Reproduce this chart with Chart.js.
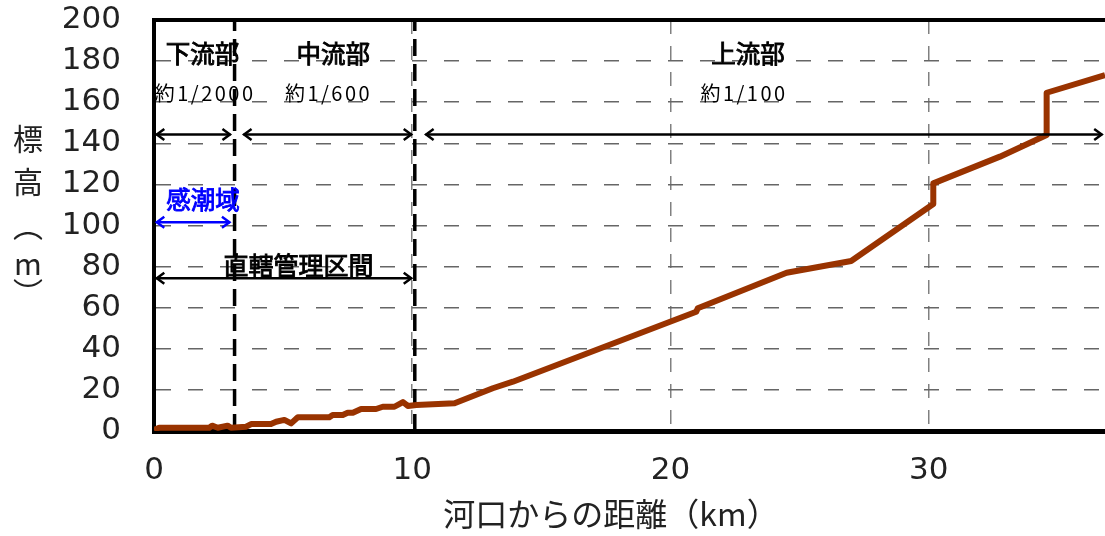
<!DOCTYPE html>
<html><head><meta charset="utf-8">
<script src="https://cdn.jsdelivr.net/npm/chart.js@4/dist/chart.umd.min.js"></script>
<style>html,body{margin:0;padding:0;background:#fff;}canvas{display:block;}</style>
</head><body>
<canvas id="c" width="1105" height="536"></canvas>
<script>
// ---- data ----
const distKm = [0, 0.2, 2.14, 2.25, 2.47, 2.85, 2.98, 3.57, 3.76, 4.53, 4.73, 5.05, 5.31, 5.57, 6.79, 6.92, 7.31, 7.5, 7.7, 8.02, 8.6, 8.86, 9.31, 9.64, 9.83, 10.16, 11.64, 13.12, 13.9, 21.0, 21.06, 24.5, 27.0, 30.18, 30.18, 32.76, 34.57, 34.57, 36.83];
const elevM  = [0.5, 1.6, 1.6, 2.6, 1.6, 2.6, 1.6, 2.1, 3.4, 3.4, 4.5, 5.4, 3.7, 6.7, 6.7, 7.8, 7.8, 8.9, 8.9, 10.7, 10.7, 11.8, 11.8, 14.1, 12.2, 12.7, 13.5, 20.8, 24, 58, 59.7, 77, 82.7, 110.5, 120.5, 133.5, 144, 164.6, 173.2];
const xTicks = [0, 10, 20, 30];
const yTicks = [0, 20, 40, 60, 80, 100, 120, 140, 160, 180, 200];
const boundaryKm = [3.12, 10.1];
const reachNames = ['下流部', '中流部', '上流部'];
const reachNameKm = [1.88, 6.94, 23.0];
const slopeLabels = ['約1/2000', '約1/600', '約1/100'];
const slopeKm = [1.98, 6.76, 22.85];
const reachArrowFrom = [0.05, 3.43, 10.48];
const reachArrowTo = [3.0, 10.02, 36.76];
const reachArrowElev = 144.3;
const tidalLabel = '感潮域';
const tidalArrow = [0.05, 2.98];
const tidalArrowElev = 101.6;
const directLabel = '直轄管理区間';
const directArrow = [0.05, 10.02];
const directArrowElev = 74.3;
const xTitle = '河口からの距離（km）';
const yTitleChars = ['標', '高', '︵', 'm', '︶'];

// ---- styles ----
const CJK = '"Noto Sans CJK JP", "Noto Sans", sans-serif';
const NUM = '"DejaVu Sans", sans-serif';

const profile = distKm.map((x, i) => ({x: x, y: elevM[i]}));
const datasets = [{
  data: profile, borderColor: '#993300', borderWidth: 6, pointRadius: 0,
  tension: 0, fill: false, borderJoinStyle: 'round', borderCapStyle: 'butt'
}];
boundaryKm.forEach(b => datasets.push({
  data: [{x: b, y: 0}, {x: b, y: 200}], borderColor: '#000', borderWidth: 3.5,
  borderDash: [17, 8], pointRadius: 0, fill: false
}));

function arrow(ctx, x1, x2, y, color) {
  ctx.save();
  ctx.strokeStyle = color; ctx.lineWidth = 2.5; ctx.lineCap = 'butt'; ctx.lineJoin = 'miter';
  ctx.beginPath(); ctx.moveTo(x1 + 1, y); ctx.lineTo(x2 - 1, y); ctx.stroke();
  ctx.beginPath();
  ctx.moveTo(x1 + 9, y - 5.5); ctx.lineTo(x1 + 1.5, y); ctx.lineTo(x1 + 9, y + 5.5);
  ctx.moveTo(x2 - 9, y - 5.5); ctx.lineTo(x2 - 1.5, y); ctx.lineTo(x2 - 9, y + 5.5);
  ctx.stroke();
  ctx.restore();
}

function heavyText(ctx, t, px, py, color) {
  ctx.fillStyle = color; ctx.strokeStyle = color; ctx.lineWidth = 0.9;
  ctx.fillText(t, px, py);
  ctx.strokeText(t, px, py);
}

const annot = {
  id: 'annot',
  afterDatasetsDraw(chart) {
    const {ctx, chartArea: a, scales: {x, y}} = chart;
    ctx.save();
    // top frame line
    ctx.strokeStyle = '#000'; ctx.lineWidth = 4;
    ctx.beginPath(); ctx.moveTo(a.left - 2, a.top); ctx.lineTo(a.right, a.top); ctx.stroke();
    ctx.textAlign = 'center'; ctx.textBaseline = 'middle';
    // reach names
    ctx.font = '24.5px ' + CJK;
    reachNames.forEach((t, i) => heavyText(ctx, t, x.getPixelForValue(reachNameKm[i]), y.getPixelForValue(183.8), '#000'));
    // slopes
    ctx.fillStyle = '#000';
    ctx.font = '20px ' + CJK;
    try { ctx.letterSpacing = '2.5px'; } catch (e) {}
    slopeLabels.forEach((t, i) => ctx.fillText(t, x.getPixelForValue(slopeKm[i]), y.getPixelForValue(164.3)));
    try { ctx.letterSpacing = '0px'; } catch (e) {}
    // reach arrows
    const ya = y.getPixelForValue(reachArrowElev);
    reachArrowFrom.forEach((f, i) => arrow(ctx, x.getPixelForValue(f), x.getPixelForValue(reachArrowTo[i]), ya, '#000'));
    // tidal
    ctx.font = '24.5px ' + CJK;
    heavyText(ctx, tidalLabel, x.getPixelForValue(1.9), y.getPixelForValue(112.4), '#0000ff');
    arrow(ctx, x.getPixelForValue(tidalArrow[0]), x.getPixelForValue(tidalArrow[1]), y.getPixelForValue(tidalArrowElev), '#0000ff');
    // direct control
    ctx.font = '25px ' + CJK;
    heavyText(ctx, directLabel, x.getPixelForValue(5.6), y.getPixelForValue(80.3), '#000');
    arrow(ctx, x.getPixelForValue(directArrow[0]), x.getPixelForValue(directArrow[1]), y.getPixelForValue(directArrowElev), '#000');
    ctx.restore();
  },
  afterDraw(chart) {
    const {ctx} = chart;
    ctx.save();
    ctx.fillStyle = '#222'; ctx.textAlign = 'center'; ctx.textBaseline = 'middle';
    ctx.font = '32px ' + CJK;
    ctx.fillText(xTitle, 611, 514);
    ctx.font = '30px ' + CJK;
    const ys = [139, 182, 226, 264, 293];
    yTitleChars.forEach((c, i) => ctx.fillText(c, 28, ys[i]));
    ctx.restore();
  }
};

new Chart(document.getElementById('c'), {
  type: 'line',
  data: {datasets: datasets},
  options: {
    responsive: false, animation: false, devicePixelRatio: 1,
    layout: {padding: {left: 0, right: 0, top: 20, bottom: 0}},
    plugins: {legend: {display: false}, tooltip: {enabled: false}},
    scales: {
      x: {
        type: 'linear', min: 0, max: 36.83,
        afterBuildTicks: s => { s.ticks = xTicks.map(v => ({value: v})); },
        afterFit: s => { s.height = 105; s.paddingLeft = 0; s.paddingRight = 0; },
        ticks: {font: {family: NUM, size: 31}, color: '#222', padding: 21, maxRotation: 0, autoSkip: false},
        grid: {color: c => (c.tick && c.tick.value === 0) ? 'rgba(0,0,0,0)' : '#808080', lineWidth: 1.5, drawTicks: false},
        border: {color: '#000', width: 5, dash: [14, 12]}
      },
      y: {
        type: 'linear', min: 0, max: 200,
        afterBuildTicks: s => { s.ticks = yTicks.map(v => ({value: v})); },
        afterFit: s => { s.width = 154; s.paddingTop = 0; s.paddingBottom = 0; },
        ticks: {font: {family: NUM, size: 31}, color: '#222', padding: 33, autoSkip: false},
        grid: {color: c => (c.tick && (c.tick.value === 0 || c.tick.value === 200)) ? 'rgba(0,0,0,0)' : '#666', lineWidth: 1.5, drawTicks: false},
        border: {color: '#000', width: 4, dash: [15, 17]}
      }
    }
  },
  plugins: [annot]
});
</script>
</body></html>
